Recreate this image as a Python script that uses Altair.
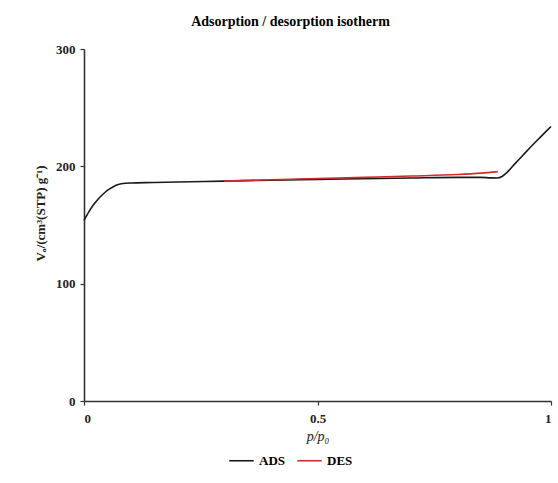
import altair as alt
import pandas as pd

ads_x = [0.0, 0.005, 0.01, 0.02, 0.03, 0.04, 0.05, 0.06, 0.07, 0.08, 0.10, 0.15, 0.20, 0.30, 0.40, 0.50,
         0.60, 0.70, 0.80, 0.85, 0.87, 0.885, 0.895, 0.905, 0.92, 0.94, 0.96, 0.98, 1.0]
ads_y = [154, 157.5, 161, 167, 172, 176, 179.5, 182, 184, 185.2, 185.8, 186.2, 186.7, 187.4, 188.2, 188.9,
         189.5, 190.1, 190.6, 190.6, 190.2, 190.0, 191.3, 194.5, 201, 209.5, 218, 226, 234]
des_x = [0.30, 0.40, 0.50, 0.60, 0.70, 0.80, 0.85, 0.886]
des_y = [187.4, 188.6, 189.6, 190.6, 191.7, 193.0, 194.2, 195.5]

df = pd.concat([
    pd.DataFrame({"x": ads_x, "y": ads_y, "series": "ADS"}),
    pd.DataFrame({"x": des_x, "y": des_y, "series": "DES"}),
])

font = "Liberation Serif"

chart = alt.Chart(df).mark_line(strokeWidth=1.6, interpolate="monotone").encode(
    x=alt.X("x:Q", scale=alt.Scale(domain=[0, 1], nice=False),
            axis=alt.Axis(values=[0, 0.5, 1], format="~g", title="p/p₀",
                          titleFontStyle="italic", titleFontWeight="normal",
                          titleFontSize=14, titlePadding=4, labelPadding=7)),
    y=alt.Y("y:Q", scale=alt.Scale(domain=[0, 300], nice=False),
            axis=alt.Axis(values=[0, 100, 200, 300], title="Vₐ/(cm³(STP) g⁻¹)",
                          titleFontWeight="bold", titleFontSize=13,
                          titleX=-44, titleY=164, titleAngle=-90, titleBaseline="middle",
                          labelPadding=5)),
    color=alt.Color("series:N", scale=alt.Scale(domain=["ADS", "DES"], range=["#1a1a1a", "#d42a2a"]),
                    legend=alt.Legend(title=None, orient="none", legendX=144, legendY=398,
                                      direction="horizontal", symbolType="stroke",
                                      symbolStrokeWidth=1.6, symbolSize=600,
                                      labelFont=font, labelFontWeight="bold", labelFontSize=13,
                                      columnPadding=8)),
).properties(
    width=467, height=352,
    title=alt.TitleParams("Adsorption / desorption isotherm", font=font, fontSize=14,
                          fontWeight="bold", anchor="middle", dx=-27, offset=14),
    autosize=alt.AutoSizeParams(type="none"),
    padding={"left": 84, "top": 49, "right": 7, "bottom": 82},
).configure_axis(
    labelFont=font, titleFont=font, labelFontWeight="bold", labelFontSize=13,
    labelColor="#222", titleColor="#222", grid=False,
    domainColor="#333", domainWidth=1.6, tickColor="#333", tickSize=4, tickWidth=1.2,
).configure_view(stroke=None)

chart.save("out.html", embed_options={"renderer": "svg", "actions": False})
